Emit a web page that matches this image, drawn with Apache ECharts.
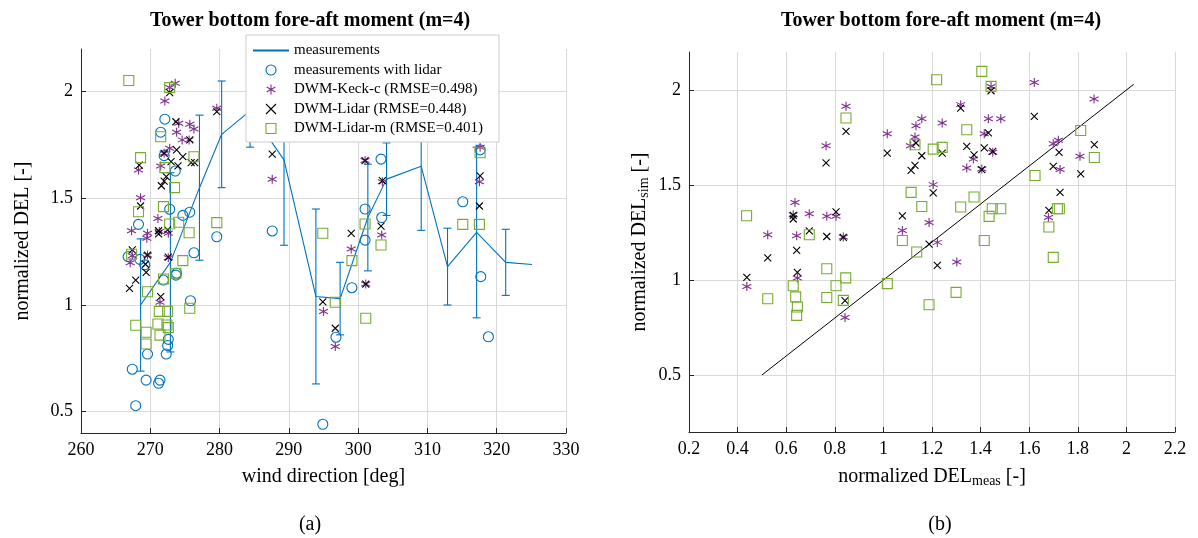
<!DOCTYPE html>
<html>
<head>
<meta charset="utf-8">
<title>Tower bottom fore-aft moment</title>
<script src="https://cdn.jsdelivr.net/npm/echarts@6/dist/echarts.min.js"></script>
<style>
html, body { margin: 0; padding: 0; background: #fff; }
#chart { width: 1198px; height: 538px; }
</style>
</head>
<body>
<div id="chart"></div>
<script>
// measurements: binned mean and std per wind direction
var measDir = [268.6, 272.9, 277.1, 280.3, 284.4, 289.3, 293.9, 297.4, 301.4, 304.1, 309.1, 312.9, 317.1, 321.3, 325.1];
var measMean = [1.00, 1.20, 1.55, 1.80, 1.91, 1.68, 1.04, 1.03, 1.41, 1.59, 1.65, 1.18, 1.34, 1.20, 1.19];
var measStd = [0.31, 0.42, 0.34, 0.25, 0.17, 0.40, 0.41, 0.17, 0.25, 0.17, 0.30, 0.18, 0.40, 0.155, null];

// (a) wind direction vs normalized DEL
var lidarMeas = [[272.1,1.871],[271.5,1.81],[272.0,1.70],[273.6,1.628],[272.8,1.449],[274.7,1.42],[275.7,1.435],[268.3,1.378],[279.6,1.32],[287.6,1.347],[266.8,1.227],[268.5,1.214],[269.2,1.188],[276.3,1.245],[273.8,1.149],[273.7,1.14],[271.9,1.117],[275.8,1.02],[272.6,0.839],[272.5,0.81],[272.3,0.77],[269.6,0.77],[267.4,0.699],[269.4,0.648],[271.4,0.648],[271.2,0.633],[267.9,0.528],[301.0,1.304],[299.1,1.081],[296.8,0.849],[294.9,0.441],[317.7,1.133],[318.8,0.851],[303.3,1.684],[301.0,1.45],[315.1,1.484],[317.6,1.727],[303.4,1.41]];
var keckDir = [[273.6,2.04],[272.8,2.02],[272.1,1.956],[279.6,1.922],[274.1,1.852],[275.7,1.847],[276.3,1.825],[273.8,1.81],[274.6,1.774],[275.6,1.774],[272.8,1.735],[272.0,1.711],[268.3,1.633],[271.5,1.652],[287.6,1.589],[268.6,1.503],[271.1,1.406],[267.3,1.348],[269.6,1.336],[272.6,1.336],[269.5,1.313],[271.3,1.344],[267.1,1.198],[267.4,1.231],[269.6,1.234],[272.6,1.222],[271.4,1.013],[299.0,1.263],[303.4,1.328],[295.0,0.969],[296.7,0.805],[301.1,1.098],[301.0,1.677],[303.5,1.578],[317.6,1.739],[317.5,1.578]];
var lidarDir = [[272.8,1.995],[279.6,1.906],[273.7,1.859],[275.7,1.774],[272.0,1.711],[273.8,1.727],[274.7,1.695],[275.9,1.667],[276.4,1.667],[273.0,1.672],[274.0,1.652],[272.3,1.602],[272.0,1.581],[271.6,1.559],[268.4,1.656],[268.6,1.464],[287.6,1.707],[271.2,1.348],[271.2,1.333],[272.5,1.352],[267.4,1.258],[269.6,1.234],[269.3,1.191],[269.4,1.153],[272.6,1.224],[267.9,1.117],[267.0,1.078],[271.5,1.039],[299.0,1.336],[294.9,1.015],[296.7,0.891],[301.1,1.098],[301.0,1.677],[303.5,1.583],[303.3,1.37],[317.6,1.605],[317.5,1.464]];
var lidarMDir = [[266.9,2.052],[272.8,2.019],[271.5,1.789],[268.6,1.691],[276.3,1.695],[272.1,1.644],[273.5,1.55],[268.3,1.437],[271.9,1.461],[272.8,1.38],[274.1,1.388],[275.6,1.339],[279.6,1.386],[267.3,1.238],[274.7,1.208],[273.7,1.149],[271.9,1.122],[269.6,1.062],[275.7,0.985],[271.3,0.97],[272.5,0.97],[267.9,0.905],[271.1,0.911],[272.4,0.906],[272.6,0.894],[269.4,0.872],[271.4,0.859],[269.4,0.817],[294.9,1.336],[299.1,1.208],[303.3,1.281],[296.7,1.013],[301.1,0.938],[301.0,1.38],[315.1,1.378],[317.5,1.378],[317.6,1.714]];

// (b) measured vs simulated DEL
var keckScatter = [[0.846,1.914],[0.764,1.707],[1.016,1.77],[1.158,1.849],[1.134,1.812],[1.130,1.753],[1.112,1.707],[1.205,1.502],[1.188,1.303],[0.636,1.408],[0.629,1.344],[0.695,1.349],[0.767,1.335],[0.805,1.335],[0.524,1.238],[0.643,1.233],[1.078,1.261],[0.835,1.226],[1.443,2.019],[1.621,2.04],[1.867,1.953],[1.318,1.923],[1.242,1.826],[1.432,1.849],[1.483,1.849],[1.415,1.77],[1.45,1.672],[1.37,1.637],[1.343,1.589],[1.405,1.584],[1.699,1.717],[1.72,1.735],[1.809,1.651],[1.727,1.581],[1.679,1.329],[0.438,0.966],[0.646,1.011],[0.842,0.803],[1.222,1.198],[1.302,1.095]];
var lidarScatter = [[0.846,1.782],[0.764,1.616],[1.016,1.668],[1.134,1.721],[1.158,1.654],[1.130,1.603],[1.114,1.577],[1.205,1.458],[0.805,1.358],[0.629,1.34],[0.629,1.321],[1.078,1.338],[0.695,1.259],[0.767,1.229],[0.835,1.224],[1.443,1.996],[1.318,1.905],[1.621,1.861],[1.242,1.668],[1.343,1.703],[1.415,1.695],[1.432,1.774],[1.373,1.659],[1.45,1.677],[1.405,1.581],[1.723,1.672],[1.699,1.598],[1.868,1.712],[1.812,1.558],[1.727,1.461],[1.681,1.366],[0.438,1.014],[0.524,1.116],[0.643,1.156],[0.646,1.04],[0.842,0.891],[1.188,1.189],[1.222,1.077]];
var lidarMScatter = [[1.219,2.054],[0.846,1.853],[1.205,1.689],[1.130,1.712],[1.114,1.461],[1.158,1.387],[0.437,1.338],[0.695,1.238],[1.405,2.098],[1.443,2.019],[1.242,1.698],[1.343,1.791],[1.812,1.787],[1.868,1.645],[1.624,1.55],[1.373,1.437],[1.318,1.384],[1.448,1.375],[1.483,1.375],[1.435,1.335],[1.681,1.279],[1.724,1.375],[1.716,1.375],[1.078,1.208],[1.137,1.147],[1.415,1.208],[1.016,0.981],[1.299,0.935],[1.188,0.87],[1.699,1.119],[0.524,0.901],[0.629,0.97],[0.639,0.911],[0.646,0.858],[0.643,0.814],[0.767,1.059],[0.767,0.908],[0.805,0.97],[0.845,1.011],[0.835,0.893]];
var diagLine = [[0.5, 0.5], [2.03, 2.03]];

// tick labels
var yTicksA = [0.5, 1, 1.5, 2];
var yTicksB = [0.5, 1, 1.5, 2];

var names = ['measurements', 'measurements with lidar', 'DWM-Keck-c (RMSE=0.498)', 'DWM-Lidar (RMSE=0.448)', 'DWM-Lidar-m (RMSE=0.401)'];

var blue = '#0072BD', purple = '#7E2F8E', green = '#77AC30', black = '#000000';
var serif = 'Liberation Serif';
var asteriskPath = 'path://M0,-5L0,5M-4.33,-2.5L4.33,2.5M-4.33,2.5L4.33,-2.5';
var crossPath = 'path://M0,0L10,10M0,10L10,0';
var squarePath = 'path://M0,0L10,0L10,10L0,10Z';

var errData = [];
for (var i = 0; i < measDir.length; i++) {
	if (measStd[i] != null) {
		errData.push([measDir[i], measMean[i] - measStd[i], measMean[i] + measStd[i]]);
	}
}
var meanData = measDir.map(function (d, i) { return [d, measMean[i]]; });

function renderErrorBar(params, api) {
	var lo = api.coord([api.value(0), api.value(1)]);
	var hi = api.coord([api.value(0), api.value(2)]);
	var w = 4;
	var st = { stroke: blue, lineWidth: 1.1 };
	return {
		type: 'group',
		children: [
			{ type: 'line', shape: { x1: lo[0], y1: lo[1], x2: hi[0], y2: hi[1] }, style: st },
			{ type: 'line', shape: { x1: lo[0] - w, y1: lo[1], x2: lo[0] + w, y2: lo[1] }, style: st },
			{ type: 'line', shape: { x1: hi[0] - w, y1: hi[1], x2: hi[0] + w, y2: hi[1] }, style: st }
		]
	};
}

function axisBase() {
	return {
		axisLine: { show: true, onZero: false, lineStyle: { color: '#262626', width: 1 } },
		axisTick: { show: true, inside: true, length: 5, lineStyle: { color: '#262626' } },
		splitLine: { show: true, lineStyle: { color: '#d9d9d9', width: 1 } },
		axisLabel: { color: '#000', fontFamily: serif, fontSize: 18, margin: 8 },
		nameLocation: 'middle',
		nameTextStyle: { color: '#000', fontFamily: serif, fontSize: 20 }
	};
}

function markerStyle(c) {
	return { color: 'none', borderColor: c, borderWidth: 1.1, opacity: 1 };
}

var xA = Object.assign(axisBase(), { gridIndex: 0, type: 'value', min: 260, max: 330, interval: 10, name: 'wind direction [deg]', nameGap: 34 });
var yA = Object.assign(axisBase(), { gridIndex: 0, type: 'value', min: 0.4, max: 2.2, name: 'normalized DEL [-]', nameGap: 48 });
yA.axisTick = Object.assign({}, yA.axisTick, { customValues: yTicksA });
yA.axisLabel = Object.assign({}, yA.axisLabel, { customValues: yTicksA });

var xB = Object.assign(axisBase(), { gridIndex: 1, type: 'value', min: 0.2, max: 2.2, interval: 0.2, name: 'normalized DEL{sub|meas} [-]', nameGap: 34 });
xB.nameTextStyle = Object.assign({}, xB.nameTextStyle, { rich: { sub: { fontFamily: serif, fontSize: 14, padding: [8, 0, 0, 0] } } });
var yB = Object.assign(axisBase(), { gridIndex: 1, type: 'value', min: 0.2, max: 2.2, name: 'normalized DEL{sub|sim} [-]', nameGap: 38 });
yB.nameTextStyle = Object.assign({}, yB.nameTextStyle, { rich: { sub: { fontFamily: serif, fontSize: 14, padding: [8, 0, 0, 0] } } });
yB.axisTick = Object.assign({}, yB.axisTick, { customValues: yTicksB });
yB.axisLabel = Object.assign({}, yB.axisLabel, { customValues: yTicksB });

var chart = echarts.init(document.getElementById('chart'), null, { renderer: 'canvas' });
var option = {
	animation: false,
	backgroundColor: '#fff',
	title: [
		{ text: 'Tower bottom fore-aft moment (m=4)', left: 305, top: 6, textAlign: 'center', textStyle: { fontFamily: serif, fontWeight: 'bold', fontSize: 20, color: '#000' } },
		{ text: 'Tower bottom fore-aft moment (m=4)', left: 936, top: 6, textAlign: 'center', textStyle: { fontFamily: serif, fontWeight: 'bold', fontSize: 20, color: '#000' } },
		{ text: '(a)', left: 305, top: 510, textAlign: 'center', textStyle: { fontFamily: serif, fontWeight: 'normal', fontSize: 20, color: '#000' } },
		{ text: '(b)', left: 935, top: 510, textAlign: 'center', textStyle: { fontFamily: serif, fontWeight: 'normal', fontSize: 20, color: '#000' } }
	],
	legend: {
		left: 246, top: 35,
		orient: 'vertical',
		backgroundColor: '#fff',
		borderColor: '#cccccc',
		borderWidth: 1,
		padding: [8, 16, 6, 6],
		itemGap: 4.5,
		itemWidth: 36,
		itemHeight: 10,
		symbolKeepAspect: true,
		selectedMode: false,
		itemStyle: { borderWidth: 1.1 },
		textStyle: { fontFamily: serif, fontSize: 15, color: '#000' },
		data: [
			{ name: names[0], itemStyle: { opacity: 0 } },
			{ name: names[1] },
			{ name: names[2] },
			{ name: names[3] },
			{ name: names[4] }
		]
	},
	grid: [
		{ left: 81, top: 49, width: 485, height: 384 },
		{ left: 689, top: 52, width: 486, height: 380 }
	],
	xAxis: [xA, xB],
	yAxis: [yA, yB],
	series: [
		{
			name: names[0], type: 'line', xAxisIndex: 0, yAxisIndex: 0,
			data: meanData, symbol: 'none', lineStyle: { color: blue, width: 1.1 }, itemStyle: { color: blue }, z: 2
		},
		{
			name: 'errorbars', type: 'custom', xAxisIndex: 0, yAxisIndex: 0,
			data: errData, renderItem: renderErrorBar, encode: { x: 0, y: [1, 2] }, z: 2
		},
		{
			name: names[1], type: 'scatter', xAxisIndex: 0, yAxisIndex: 0,
			data: lidarMeas, symbol: 'circle', symbolSize: 10, itemStyle: markerStyle(blue), z: 3
		},
		{
			name: names[2], type: 'scatter', xAxisIndex: 0, yAxisIndex: 0,
			data: keckDir, symbol: asteriskPath, symbolSize: 9, itemStyle: markerStyle(purple), z: 3
		},
		{
			name: names[3], type: 'scatter', xAxisIndex: 0, yAxisIndex: 0,
			data: lidarDir, symbol: crossPath, symbolSize: 7, itemStyle: markerStyle(black), z: 3
		},
		{
			name: names[4], type: 'scatter', xAxisIndex: 0, yAxisIndex: 0,
			data: lidarMDir, symbol: squarePath, symbolSize: 10, itemStyle: markerStyle(green), z: 3
		},
		{
			name: 'diag', type: 'line', xAxisIndex: 1, yAxisIndex: 1,
			data: diagLine, symbol: 'none', lineStyle: { color: '#000', width: 1 }, z: 2
		},
		{
			name: names[2], type: 'scatter', xAxisIndex: 1, yAxisIndex: 1,
			data: keckScatter, symbol: asteriskPath, symbolSize: 9, itemStyle: markerStyle(purple), z: 3
		},
		{
			name: names[3], type: 'scatter', xAxisIndex: 1, yAxisIndex: 1,
			data: lidarScatter, symbol: crossPath, symbolSize: 7, itemStyle: markerStyle(black), z: 3
		},
		{
			name: names[4], type: 'scatter', xAxisIndex: 1, yAxisIndex: 1,
			data: lidarMScatter, symbol: squarePath, symbolSize: 10, itemStyle: markerStyle(green), z: 3
		}
	]
};
chart.setOption(option);
</script>
</body>
</html>
